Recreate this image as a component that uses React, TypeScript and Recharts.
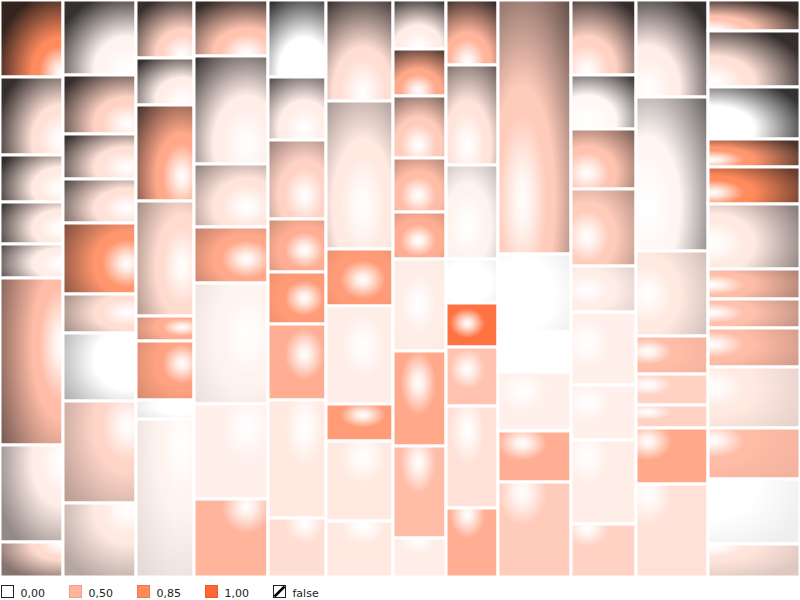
import React from 'react';
import { Treemap } from 'recharts';

// cell sizes, one array per column (left to right, top to bottom)
const col01Sizes = [486, 495, 298, 267, 216, 1060, 616, 225];
const col02Sizes = [548, 434, 332, 321, 518, 285, 496, 748, 529];
const col03Sizes = [339, 273, 554, 664, 145, 342, 113, 916];
const col04Sizes = [418, 799, 466, 414, 895, 703, 574];
const col05Sizes = [447, 365, 458, 307, 299, 438, 684, 348];
const col06Sizes = [680, 992, 382, 657, 248, 536, 372];
const col07Sizes = [262, 249, 329, 286, 249, 488, 504, 488, 204];
const col08Sizes = [338, 520, 491, 229, 229, 307, 533, 354];
const col09Sizes = [1858, 566, 292, 431, 369, 697];
const col10Sizes = [488, 354, 390, 501, 302, 475, 358, 543, 341];
const col11Sizes = [698, 1109, 612, 277, 223, 166, 403, 666];
const col12Sizes = [288, 512, 476, 256, 339, 595, 275, 265, 357, 558, 467, 599, 293];

// colour value of each cell (0..1)
const col01Heat = [0.85, 0.2, 0.15, 0.15, 0.12, 0.45, 0.12, 0.25];
const col02Heat = [0.08, 0.3, 0.2, 0.2, 0.75, 0.22, 0, 0.28, 0.15];
const col03Heat = [0.3, 0.12, 0.6, 0.25, 0.55, 0.65, 0, 0.08];
const col04Heat = [0.4, 0.12, 0.18, 0.6, 0.08, 0.1, 0.5];
const col05Heat = [0, 0.12, 0.3, 0.55, 0.7, 0.55, 0.15, 0.22];
const col06Heat = [0.22, 0.15, 0.7, 0.12, 0.7, 0.15, 0.15];
const col07Heat = [0.12, 0.6, 0.35, 0.45, 0.55, 0.12, 0.6, 0.45, 0.12];
const col08Heat = [0.5, 0.18, 0.08, 0, 0.95, 0.4, 0.2, 0.55];
const col09Heat = [0.35, 0, 0, 0.1, 0.55, 0.35];
const col10Heat = [0.3, 0.05, 0.4, 0.35, 0.12, 0.1, 0.1, 0.12, 0.3];
const col11Heat = [0.12, 0.06, 0.15, 0.45, 0.3, 0.3, 0.6, 0.2];
const col12Heat = [0.4, 0.2, 0, 0.75, 0.85, 0.15, 0.45, 0.42, 0.45, 0.15, 0.45, 0, 0.18];

const legendLabels = ['0,00', '0,50', '0,85', '1,00', 'false'];
const legendStops = [0, 0.5, 0.85, 1];

const colorStops: [number, number[]][] = [
  [0, [255, 255, 255]],
  [0.5, [255, 180, 156]],
  [0.85, [255, 138, 92]],
  [1, [255, 102, 51]],
];

const W = 800;
const H = 577;

const clamp = (v: number, lo: number, hi: number) => Math.max(lo, Math.min(hi, v));
const mix = (a: number[], b: number[], t: number) => a.map((v, i) => v + (b[i] - v) * t);
const rgb = (c: number[]) => `rgb(${c.map((v) => Math.round(v)).join(',')})`;

const heatColor = (h: number) => {
  const v = clamp(h, 0, 1);
  for (let i = 1; i < colorStops.length; i++) {
    const [t1, c1] = colorStops[i];
    const [t0, c0] = colorStops[i - 1];
    if (v <= t1) return mix(c0, c1, (v - t0) / (t1 - t0));
  }
  return colorStops[colorStops.length - 1][1];
};

const columns = [
  [col01Sizes, col01Heat],
  [col02Sizes, col02Heat],
  [col03Sizes, col03Heat],
  [col04Sizes, col04Heat],
  [col05Sizes, col05Heat],
  [col06Sizes, col06Heat],
  [col07Sizes, col07Heat],
  [col08Sizes, col08Heat],
  [col09Sizes, col09Heat],
  [col10Sizes, col10Heat],
  [col11Sizes, col11Heat],
  [col12Sizes, col12Heat],
];

const makeColumn = ([sizes, heat]: number[][], i: number) => ({
  name: `c${i + 1}`,
  children: sizes.map((size, j) => ({ name: `c${i + 1}-${j + 1}`, size, heat: heat[j] })),
});

// a zero-sized first child makes squarify keep the whole group in one row,
// so a tall group gets split into side-by-side columns
const spacer = (key: string) => ({ name: `spacer-${key}`, size: 0 });

const treeData = [
  { name: 'left', children: [spacer('l'), ...columns.slice(0, 6).map((c, i) => makeColumn(c, i))] },
  { name: 'right', children: [spacer('r'), ...columns.slice(6).map((c, i) => makeColumn(c, i + 6))] },
];

const CellShape = (props: any) => {
  const { x, y, width, height, depth, name, heat } = props;
  if (depth !== 3 || !(width > 0) || !(height > 0)) return null;
  const cx = x + width / 2;
  const cy = y + height / 2;
  // highlight leans towards the middle of the chart
  const fx = clamp(0.5 + (0.5 * (W / 2 - cx)) / (W / 2), 0, 1);
  const fy = clamp(0.5 + (0.5 * (300 - cy)) / 300, 0, 1);
  const base = heatColor(heat);
  // cells far from the lit lower middle get a darker rim, the top the most
  const dx = (cx - 430) * (cx > 430 ? 0.6 : 0.8);
  const dist = Math.hypot(dx, (cy - 470) * 1.15);
  const strength = clamp((dist - 180) / 300, 0, 0.88);
  const dark = mix(base, [24, 22, 22], strength);
  const R = 1.4;
  const id = `grad-${name}`;
  return (
    <g>
      <defs>
        <radialGradient id={id} cx={fx} cy={fy} fx={fx} fy={fy} r={R}>
          <stop offset={0} stopColor="#ffffff" />
          <stop offset={0.1 / R} stopColor={rgb(mix(base, [255, 255, 255], 0.8))} />
          <stop offset={0.34 / R} stopColor={rgb(base)} />
          <stop offset={0.45 / R} stopColor={rgb(base)} />
          <stop offset={1.05 / R} stopColor={rgb(dark)} />
        </radialGradient>
      </defs>
      <rect x={x} y={y} width={width} height={height} fill={`url(#${id})`} stroke="#ffffff" strokeWidth={3} />
    </g>
  );
};

const HeatLegend = () => (
  <svg width={W} height={23} style={{ display: 'block' }}>
    {legendLabels.map((label, i) => {
      const x = 1.5 + i * 68;
      const isFalse = i === legendStops.length;
      return (
        <g key={label}>
          <rect
            x={x}
            y={8.5}
            width={12}
            height={12}
            fill={isFalse ? '#ffffff' : rgb(heatColor(legendStops[i]))}
            stroke={isFalse || i === 0 ? '#222' : rgb(mix(heatColor(legendStops[i]), [0, 0, 0], 0.1))}
            strokeWidth={1}
          />
          {isFalse && <line x1={x + 1} y1={19.5} x2={x + 11} y2={9.5} stroke="#000" strokeWidth={2.5} />}
          <text x={x + 19} y={20} fontSize={11} fontFamily="DejaVu Sans" fill="#222">
            {label}
          </text>
        </g>
      );
    })}
  </svg>
);

export default function App() {
  return (
    <div style={{ width: W }}>
      <style>{'body{margin:0;}'}</style>
      <Treemap
        width={W}
        height={H}
        data={treeData}
        dataKey="size"
        aspectRatio={0.01}
        isAnimationActive={false}
        content={<CellShape />}
      />
      <HeatLegend />
    </div>
  );
}
